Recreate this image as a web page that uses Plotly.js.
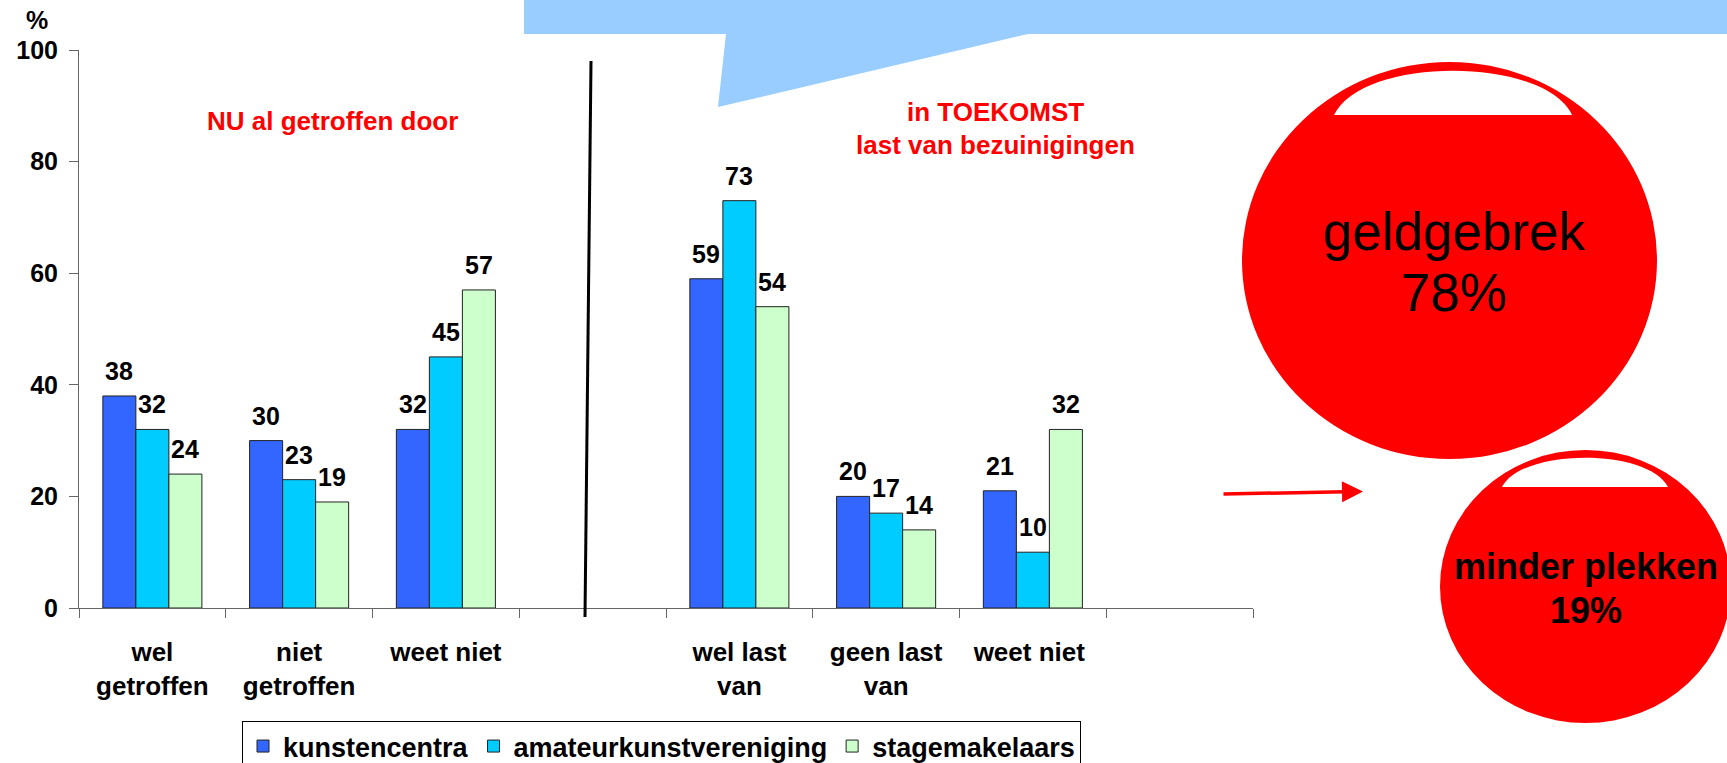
<!DOCTYPE html>
<html><head><meta charset="utf-8">
<script src="https://cdn.plot.ly/plotly-3.0.1.min.js"></script>
<style>html,body{margin:0;padding:0;background:#fff;overflow:hidden;} #chart{width:1727px;height:800px;}</style>
</head><body><div id="chart"></div>
<script>
// ---- data ----
const categories = ['wel<br>getroffen','niet<br>getroffen','weet niet',' ','wel last<br>van','geen last<br>van','weet niet ','  '];
const seriesNames = ['kunstencentra','amateurkunstvereniging','stagemakelaars'];
const kunstencentra = [38,30,32,null,59,20,21,null];
const amateurkunstvereniging = [32,23,45,null,73,17,10,null];
const stagemakelaars = [24,19,57,null,54,14,32,null];
const seriesColors = ['#3366FF','#00CCFF','#CCFFCC'];
const yTicks = [0,20,40,60,80,100];
const noteNow = 'NU al getroffen door';
const noteFuture = ['in TOEKOMST','last van bezuinigingen'];
const bubbleBig = ['geldgebrek','78%'];
const bubbleSmall = ['minder plekken','19%'];

// ---- geometry helpers (pixel -> paper) ----
const W=1727, H=800;
const L=79, R=1253, T=50, B=608;
const BARGAP = 0.325;
const px = x => (x-L)/(R-L);
const py = y => (B-y)/(B-T);
const FONT = 'Liberation Sans, Arial, sans-serif';

const series = [kunstencentra, amateurkunstvereniging, stagemakelaars];
const traces = series.map((vals,i)=>({
  type:'bar', name:seriesNames[i], x:categories, y:vals,
  marker:{color:seriesColors[i], line:{color:'#222', width:1}},
  hoverinfo:'x+y'
}));

function pathFrom(pts){
  return pts.map(p=>{
    const c=p[0]; const nums=[];
    for(let k=1;k<p.length;k+=2){ nums.push(px(p[k]).toFixed(5)+','+py(p[k+1]).toFixed(5)); }
    return c+nums.join(' ');
  }).join(' ');
}

const shapes = [
  {type:'path', xref:'paper', yref:'paper', layer:'above', fillcolor:'#99CCFF', line:{width:0},
   path: pathFrom([['M',524,-20],['L',1740,-20],['L',1740,34],['L',1028,34],['L',718,107],['L',726,34],['L',524,34]])+' Z'},
  {type:'line', xref:'paper', yref:'paper', layer:'above', x0:px(591), y0:py(61), x1:px(585), y1:py(617),
   line:{color:'#000', width:3}},
  {type:'circle', xref:'paper', yref:'paper', layer:'above', x0:px(1242), x1:px(1657), y0:py(62), y1:py(459),
   fillcolor:'#FF0000', line:{width:0}},
  {type:'path', xref:'paper', yref:'paper', layer:'above', fillcolor:'#FFFFFF', line:{width:0},
   path: pathFrom([['M',1334,115],['C',1362,56,1544,56,1572,115]])+' Z'},
  {type:'circle', xref:'paper', yref:'paper', layer:'above', x0:px(1440), x1:px(1731), y0:py(450), y1:py(723),
   fillcolor:'#FF0000', line:{width:0}},
  {type:'path', xref:'paper', yref:'paper', layer:'above', fillcolor:'#FFFFFF', line:{width:0},
   path: pathFrom([['M',1502,487],['C',1522,448,1648,448,1668,487]])+' Z'}
];

function note(xp, yp, text, size, color, bold){
  return {xref:'paper', yref:'paper', x:px(xp), y:py(yp), xanchor:'center', yanchor:'middle',
    text:text, showarrow:false,
    font:{family:FONT, size:size, color:color, weight: bold ? 'bold' : 'normal'}};
}

const annotations = [
  note(37, 20, '%', 25, '#000', true),
  note(332, 121, noteNow, 26, '#FF0000', true),
  note(995, 112, noteFuture[0], 26, '#FF0000', true),
  note(995, 145, noteFuture[1], 26, '#FF0000', true),
  note(1454, 231, bubbleBig[0], 53, '#000', false),
  note(1454, 292, bubbleBig[1], 53, '#000', false),
  note(1586, 566, bubbleSmall[0], 36, '#000', true),
  note(1586, 610, bubbleSmall[1], 36, '#000', true),
  {xref:'paper', yref:'paper', x:px(1363), y:py(491.5), ax:-141, ay:2.5, text:'', showarrow:true,
   arrowhead:2, arrowsize:1.2, arrowwidth:3.5, arrowcolor:'#FF0000'}
];

// value labels above the bars, placed on the bar axes
const barW = (R-L)/categories.length*(1-BARGAP)/series.length;
series.forEach((vals,i)=>{
  vals.forEach((v,j)=>{
    if(v==null) return;
    annotations.push({xref:'x', yref:'y', x:categories[j], y:v, xshift:(i-(series.length-1)/2)*barW,
      yshift:9, xanchor:'center', yanchor:'bottom', text:String(v), showarrow:false,
      font:{family:FONT, size:25, color:'#000', weight:'bold'}});
  });
});

const layout = {
  width:W, height:H,
  margin:{l:L, r:W-R, t:T, b:H-B, pad:0},
  paper_bgcolor:'#fff', plot_bgcolor:'#fff',
  barmode:'group', bargap:BARGAP, bargroupgap:0,
  showlegend:true,
  font:{family:FONT, color:'#000'},
  xaxis:{type:'category', categoryorder:'array', categoryarray:categories, range:[-0.5,7.5],
    showline:true, linecolor:'#666', linewidth:1, ticks:'outside', tickson:'boundaries', ticklen:9,
    tickcolor:'#666', ticklabelstandoff:21, tickfont:{family:FONT, size:26, color:'#000', weight:'bold'},
    showgrid:false, zeroline:false, fixedrange:true, automargin:false},
  yaxis:{range:[0,100], tickvals:yTicks, ticktext:yTicks.map(String), showline:true, linecolor:'#666', linewidth:1,
    ticks:'outside', ticklen:9, tickcolor:'#666', ticklabelstandoff:6,
    tickfont:{family:FONT, size:25, color:'#000', weight:'bold'},
    showgrid:false, zeroline:false, fixedrange:true, automargin:false},
  legend:{orientation:'h', x:px(242), y:py(721), xanchor:'left', yanchor:'top',
    bordercolor:'#000', borderwidth:1, bgcolor:'#fff',
    font:{family:FONT, size:27, color:'#000', weight:'bold'}},
  shapes:shapes, annotations:annotations
};

Plotly.newPlot('chart', traces, layout, {displayModeBar:false, staticPlot:true});
</script>
</body></html>
